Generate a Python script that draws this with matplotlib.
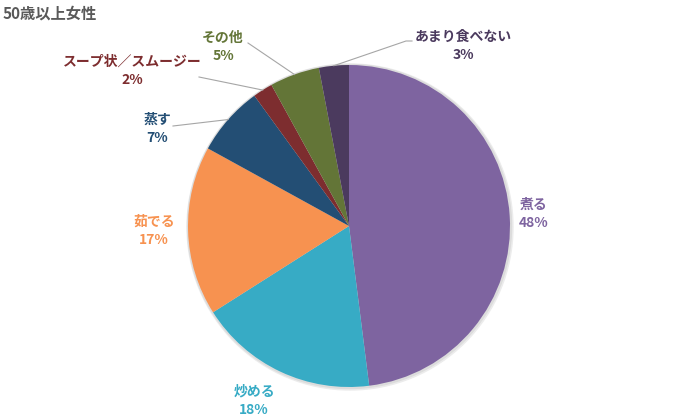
import numpy as np
import matplotlib.pyplot as plt
from matplotlib.patches import Circle

plt.rcParams['font.family'] = ['Noto Sans CJK JP', 'DejaVu Sans']

# データ（12時方向から時計回り）
labels = ["煮る", "炒める", "茹でる", "蒸す", "スープ状／スムージー", "その他", "あまり食べない"]
values = [48, 18, 17, 7, 2, 5, 3]
colors = ["#7E64A0", "#37ABC5", "#F79250", "#234E74", "#7D2D2F", "#637537", "#4B3A5E"]
title = "50歳以上女性"

W, H = 700, 420
CX, CY, R = 349, 226, 161

# ラベル位置（画像ピクセル座標, 中心）と引き出し線の終点
label_pos = [(534, 214), (254, 401), (154, 231), (157, 129), (132, 71), (223, 47), (463, 46)]
leader_end = [None, None, None, (173, 126), (199, 77), (248, 43), (406, 41)]


def px(x, y):
    return x, H - y


fig = plt.figure(figsize=(7, 4.2), dpi=100)
ax = fig.add_axes([0, 0, 1, 1])

# うっすら影
ax.add_patch(Circle(px(CX + 1, CY + 1), R + 2, color="#ececec", zorder=0))
ax.add_patch(Circle(px(CX + 0.5, CY + 0.5), R + 1, color="#dcdcdc", zorder=0))

wedges, _ = ax.pie(values, colors=colors, startangle=90, counterclock=False,
                   center=px(CX, CY), radius=R,
                   wedgeprops=dict(linewidth=0, edgecolor="none"))

for w, lab, v, c, pos, end in zip(wedges, labels, values, colors, label_pos, leader_end):
    ax.text(*px(*pos), f"{lab}\n{v}%", ha="center", va="center", color=c,
            fontsize=10, fontweight="bold", linespacing=1.4)
    if end is not None:
        mid = np.deg2rad((w.theta1 + w.theta2) / 2)
        ex, ey = w.center[0] + R * np.cos(mid), w.center[1] + R * np.sin(mid)
        lx, ly = px(*end)
        if lab == "あまり食べない":
            ax.plot([ex, lx, lx + 6], [ey, ly, ly], color="#a6a6a6", lw=0.8, zorder=1)
        else:
            ax.plot([ex, lx], [ey, ly], color="#a6a6a6", lw=0.8, zorder=1)

ax.text(*px(3, 14), title, ha="left", va="center", color="#595959",
        fontsize=11, fontweight="bold")

ax.set_xlim(0, W)
ax.set_ylim(0, H)
ax.set_aspect("equal")
ax.axis("off")

fig.savefig("out.png", dpi=100)
